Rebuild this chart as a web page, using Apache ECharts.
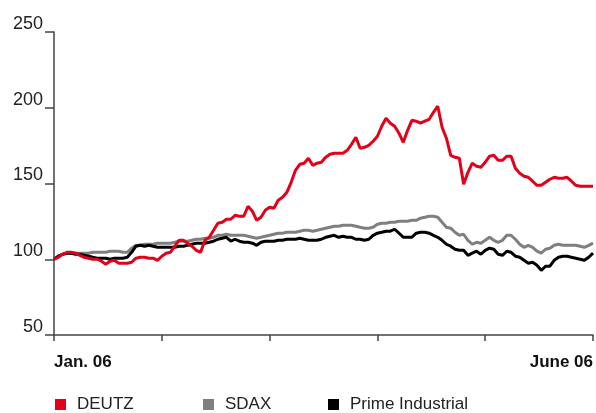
<!DOCTYPE html>
<html>
<head>
<meta charset="utf-8">
<script src="https://cdn.jsdelivr.net/npm/echarts@6/dist/echarts.min.js"></script>
<style>
html,body{margin:0;padding:0;background:#fff;}
#chart{width:596px;height:413px;}
</style>
</head>
<body>
<div id="chart"></div>
<script>
// Trading-day index 0..125 (Jan 06 .. June 06)
var xTickLabels = {0: 'Jan. 06', 125: 'June 06'};
var yTicks = [50, 100, 150, 200, 250];

var deutz = [
100,101.3,103.3,104.6,104.6,104.0,102.6,101.3,100.7,100,
100,98.7,96.7,98.7,99.3,97.4,97.4,97.4,98.0,100.7,
101.3,101.3,100.7,100.7,99.3,102.0,104.0,104.6,108.6,112.5,
112.5,110.6,108.6,105.9,104.6,112.5,114.5,119.1,123.8,124.4,
126.4,126.4,129.0,128.4,128.4,135.0,131.7,125.7,127.7,132.3,
134.3,133.7,138.9,140.9,144.2,150.8,158.7,162.7,163.4,166.7,
162.0,163.4,164.0,167.3,169.3,170.0,170.0,170.0,171.9,175.9,
180.5,173.3,173.9,175.2,177.9,181.2,187.8,193.1,189.8,187.8,
183.2,177.2,185.1,191.7,191.1,189.8,191.1,192.4,197.0,201.0,
187.1,179.9,168.6,167.3,166.7,149.5,157.4,163.4,161.4,160.7,
164.0,168.0,168.6,165.3,165.3,168.0,168.0,160.0,156.8,154.8,
154.1,151.5,148.8,148.8,150.8,152.8,154.1,153.5,153.5,154.1,
151.5,148.8,148.2,148.2,148.2,148.2
];

var sdax = [
100,102.0,103.3,104.0,104.0,104.0,104.0,104.0,104.0,104.6,
104.6,104.6,104.6,105.3,105.3,105.3,104.6,104.6,107.3,109.2,
109.2,109.9,109.9,109.9,110.6,110.6,110.6,110.6,111.2,111.9,
111.9,111.9,112.5,113.2,113.2,113.9,113.9,114.5,115.8,115.8,
116.5,115.8,115.8,115.8,115.8,115.2,114.5,113.9,114.5,115.2,
115.8,116.5,117.2,117.2,117.8,117.8,117.8,118.5,119.1,119.1,
118.5,119.1,119.8,120.5,121.1,121.8,121.8,122.4,122.4,122.4,
121.8,121.1,120.5,120.5,121.1,123.1,123.8,123.8,124.4,124.4,
125.1,125.1,125.1,125.7,125.7,127.1,127.7,128.4,128.4,127.7,
124.4,121.1,120.5,117.8,115.8,116.5,112.5,109.9,111.2,110.6,
112.5,114.5,112.5,111.2,112.5,115.8,115.8,113.2,109.9,107.9,
109.2,107.9,105.3,104.0,106.6,107.3,109.2,109.9,109.2,109.2,
109.2,109.2,108.6,107.9,109.2,110.6
];

var prime = [
100,102.0,103.3,104.0,104.0,103.3,103.3,102.6,102.0,101.3,
100.7,100.7,100.7,100,100.7,100.7,100.7,101.3,104.6,108.6,
109.2,108.6,109.2,108.6,107.9,107.9,107.9,107.9,107.9,108.6,
108.6,109.2,109.9,110.6,110.6,110.6,111.2,111.9,113.2,113.9,
114.5,111.9,113.2,111.9,111.2,111.2,110.6,109.2,111.2,111.9,
111.9,111.9,112.5,112.5,113.2,113.2,113.2,113.9,113.2,112.5,
112.5,112.5,113.2,114.5,115.2,115.8,114.5,115.2,114.5,114.5,
113.2,113.2,112.5,113.2,115.8,117.2,117.8,118.5,118.5,119.8,
117.2,114.5,114.5,114.5,117.2,117.8,117.8,117.2,115.8,114.5,
112.5,109.9,108.6,106.6,105.9,105.9,102.6,104.0,105.3,103.3,
105.9,107.3,106.6,103.3,102.6,105.3,104.6,102.0,101.3,99.3,
97.4,98.0,96.0,92.7,95.4,95.4,99.3,101.3,102.0,102.0,
101.3,100.7,100,99.3,101.3,104.0
];

function pairs(arr){ return arr.map(function(v,i){ return [i, v]; }); }

var chart = echarts.init(document.getElementById('chart'), null, {renderer:'canvas'});
var font = '"Liberation Sans", Arial, sans-serif';
function legendAt(left, name){
  return {
    left: left, top: 396, padding: 0, icon: 'rect', itemWidth: 11, itemHeight: 11, itemGap: 0,
    data: [name], selectedMode: false,
    textStyle: {fontFamily: font, fontSize: 17, color: '#222', padding: [0,0,0,6]}
  };
}
chart.setOption({
  animation: false,
  color: ['#7f7f7f', '#000000', '#e2001a'],
  legend: [legendAt(55, 'DEUTZ'), legendAt(203, 'SDAX'), legendAt(328, 'Prime Industrial')],
  grid: {left: 54, right: 1, top: 32, bottom: 78, containLabel: false},
  xAxis: {
    type: 'value', min: 0, max: 125, interval: 25,
    axisLine: {show: true, lineStyle: {color: '#444', width: 1.5}},
    axisTick: {show: true, length: 6, inside: false, lineStyle: {color: '#444', width: 1.5}},
    splitLine: {show: false},
    axisLabel: {
      margin: 19, fontFamily: font, fontSize: 17, fontWeight: 'bold', color: '#111',
      showMinLabel: true, showMaxLabel: true,
      alignMinLabel: 'left', alignMaxLabel: 'right',
      formatter: function(v){ return xTickLabels[v] || ''; }
    }
  },
  yAxis: {
    type: 'value', min: yTicks[0], max: yTicks[yTicks.length-1], interval: 50,
    axisLine: {show: true, lineStyle: {color: '#444', width: 1.5}},
    axisTick: {show: true, length: 9, lineStyle: {color: '#444', width: 1.5}},
    splitLine: {show: false},
    axisLabel: {margin: 11, fontFamily: font, fontSize: 18, color: '#222', verticalAlign: 'bottom', lineHeight: 16}
  },
  series: [
    {name: 'SDAX', type: 'line', data: pairs(sdax), showSymbol: false, symbol: 'none',
     lineStyle: {width: 3, color: '#7f7f7f'}, itemStyle: {color: '#7f7f7f'}},
    {name: 'Prime Industrial', type: 'line', data: pairs(prime), showSymbol: false, symbol: 'none',
     lineStyle: {width: 3, color: '#000'}, itemStyle: {color: '#000'}},
    {name: 'DEUTZ', type: 'line', data: pairs(deutz), showSymbol: false, symbol: 'none',
     lineStyle: {width: 3, color: '#e2001a'}, itemStyle: {color: '#e2001a'}}
  ]
});
</script>
</body>
</html>
